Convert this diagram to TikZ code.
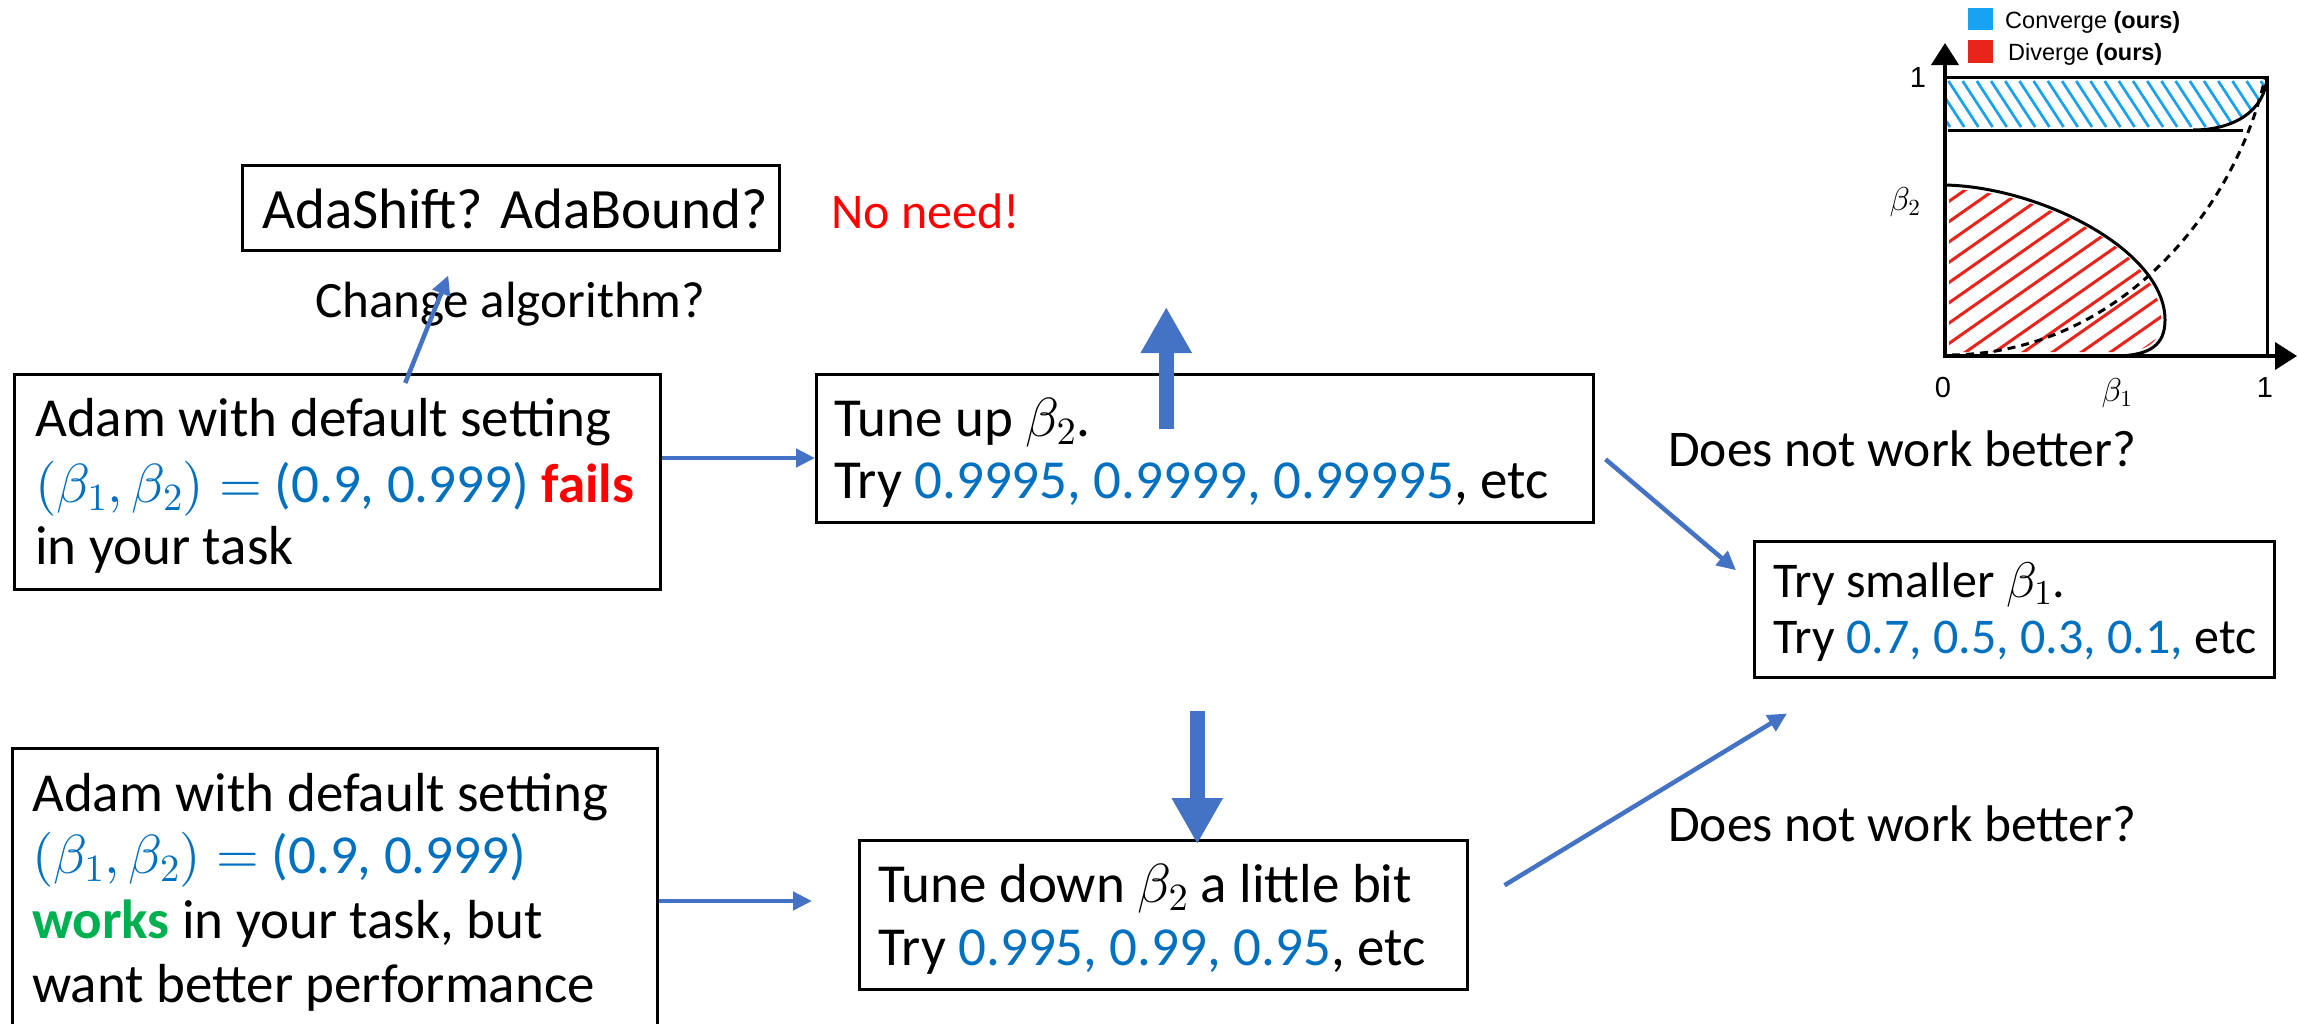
\documentclass[tikz,border=0pt]{standalone}
\DeclareFontFamily{OML}{cmm}{\skewchar\font'177}
\DeclareFontShape{OML}{cmm}{m}{it}{<->cmmi10}{}
\DeclareFontShape{OML}{cmm}{b}{it}{<->cmmib10}{}
\DeclareFontFamily{OMS}{cmsy}{\skewchar\font'60}
\DeclareFontShape{OMS}{cmsy}{m}{n}{<->cmsy10}{}
\DeclareFontFamily{OMX}{cmex}{}
\DeclareFontShape{OMX}{cmex}{m}{n}{<->cmex10}{}
\DeclareFontFamily{OT1}{cmr}{}
\DeclareFontShape{OT1}{cmr}{m}{n}{<->cmr10}{}
\DeclareFontShape{OT1}{cmr}{m}{it}{<->cmti10}{}
\DeclareFontShape{OT1}{cmr}{bx}{n}{<->cmbx10}{}
\usepackage{fontspec}
\setmainfont{Carlito}
\newfontfamily\arialf{Liberation Sans}
\usetikzlibrary{arrows.meta,calc}
\definecolor{tblue}{HTML}{0070C0}
\definecolor{ablue}{HTML}{4472C4}
\definecolor{tgreen}{HTML}{00B050}
\definecolor{cblue}{HTML}{18A2F2}
\definecolor{cred}{HTML}{E8251A}
\begin{document}
\begin{tikzpicture}[x=1pt,y=-1pt,
  box/.style={draw, line width=2.5pt, inner sep=0pt, anchor=north west},
  txt/.style={anchor=base west, inner sep=0pt, font=\fontsize{55}{64}\selectfont},
  tfive/.style={anchor=base west, inner sep=0pt, font=\fontsize{50}{58}\selectfont},
  lbl/.style={anchor=base west, inner sep=0pt, font=\fontsize{51}{60}\selectfont},
  thinarrow/.style={draw=ablue, line width=4.5pt, -{Triangle[length=19pt,width=18pt]}},
  thickarrow/.style={draw=ablue, line width=15pt, -{Triangle[length=46pt,width=48pt]}},
  pl/.style={inner sep=0pt, font=\arialf\fontsize{29}{31}\selectfont},
  plm/.style={inner sep=0pt, font=\fontsize{33}{35}\selectfont},
  leg/.style={anchor=base west, inner sep=0pt, font=\arialf\fontsize{23.5}{26}\selectfont},
  curve/.style={line width=3pt},
  axis/.style={line width=4pt, -{Triangle[length=22pt,width=27pt]}}
]
\path[use as bounding box, fill=white] (0,0) rectangle (2298,1023);

% boxes
\node[box, minimum width=537pt, minimum height=85pt] (ada) at (241,164) {};
\node[box, minimum width=646pt, minimum height=215pt] (b1) at (13,373) {};
\node[box, minimum width=777pt, minimum height=148pt] (b2) at (815,373) {};
\node[box, minimum width=608pt, minimum height=149pt] (b3) at (858,839) {};
\node[box, minimum width=645pt, minimum height=300pt] (b4) at (11,747) {};
\node[box, minimum width=520pt, minimum height=136pt] (b5) at (1753,540) {};

% texts
\node[txt, font=\fontsize{57}{64}\selectfont] (adaT) at (262,228) {AdaShift? AdaBound?};
\node[lbl, font=\fontsize{50}{60}\selectfont, text=red] (noneed) at (831,228) {No need!};
\node[lbl] (chg) at (315,317) {Change algorithm?};
\node[txt] (b1a) at (35,436) {Adam with default setting};
\node[txt] (b1b) at (35,502) {\color{tblue}$(\beta_1,\beta_2) =$ (0.9, 0.999) \textcolor{red}{\textbf{fails}}};
\node[txt] (b1c) at (35,564) {in your task};
\node[txt] (b2a) at (834,436) {Tune up $\beta_2$.};
\node[txt] (b2b) at (834,498) {Try \textcolor{tblue}{0.9995, 0.9999, 0.99995}, etc};
\node[txt] (b3a) at (878,902) {Tune down $\beta_2$ a little bit};
\node[txt] (b3b) at (878,965) {Try \textcolor{tblue}{0.995, 0.99, 0.95}, etc};
\node[txt] (b4a) at (32,811) {Adam with default setting};
\node[txt] (b4b) at (32,873) {\color{tblue}$(\beta_1,\beta_2) =$ (0.9, 0.999)};
\node[txt] (b4c) at (32,938) {\textcolor{tgreen}{\textbf{works}} in your task, but};
\node[txt] (b4d) at (32,1002) {want better performance};
\node[tfive] (b5a) at (1773,597) {Try smaller $\beta_1$.};
\node[tfive] (b5b) at (1773,653) {Try \textcolor{tblue}{0.7, 0.5, 0.3, 0.1,} etc};
\node[lbl, font=\fontsize{51.5}{60}\selectfont] (dn1) at (1668,466) {Does not work better?};
\node[lbl, font=\fontsize{51.5}{60}\selectfont] (dn2) at (1668,841) {Does not work better?};

% connectors
\draw[thinarrow] (b1.east |- 0,458) -- (b2.west |- 0,458);
\draw[thinarrow] ([xshift=68pt,yshift=-10pt]b1.north) -- ([xshift=-62.5pt,yshift=-24pt]ada.south);
\draw[thickarrow] ([xshift=-38.5pt,yshift=-56pt]b2.north) -- ([xshift=-38.5pt,yshift=66pt]b2.north);
\draw[thickarrow] ([xshift=34pt,yshift=128pt]b3.north) -- ([xshift=34pt,yshift=-5pt]b3.north);
\draw[thinarrow] ([xshift=11pt,yshift=-11pt]b2.east) -- ([xshift=-17pt,yshift=39pt]b5.west);
\draw[thinarrow] ([xshift=36pt,yshift=29.5pt]b3.east) -- ([xshift=34pt,yshift=-35pt]b5.south west);
\draw[thinarrow, shorten >=46pt] (b4.east |- 0,901) -- (b3.west |- 0,901);

% plot: hatching
\begin{scope}
\clip (1945,77) -- (2267,77) .. controls (2265,110) and (2235,130) .. (2193,130) -- (1945,130) -- cycle;
\foreach \i in {0,...,25} \draw[cblue, line width=2.7pt] ({1920+14.2*\i},81) -- ++(30,46);
\end{scope}
\begin{scope}
\clip (1949,189) .. controls (2040,191) and (2161,250) .. (2161,320) .. controls (2161,343) and (2146,352) .. (2118,352) -- (1949,352) -- cycle;
\foreach \i in {0,...,20} \draw[cred, line width=3pt] ({1650+29*\i},370) -- ++(380,-266);
\end{scope}
% plot: curves
\draw[curve] (1945,185) .. controls (2040,187) and (2165,250) .. (2165,320) .. controls (2165,345) and (2150,355) .. (2118,356);
\draw[curve] (1948,130) -- (2243,130);
\draw[curve] (2193,130) .. controls (2235,130) and (2265,110) .. (2267,77);
\draw[curve] (1945,77) -- (2267,77) -- (2267,356);
\draw[line width=3pt, dash pattern=on 8pt off 6pt] (1952,355) .. controls (2120,352) and (2235,210) .. (2265,78);
% axes
\draw[axis] (1945,358) -- (1945,43);
\draw[axis] (1943,356) -- (2297,356);
% plot labels
\node[pl] (one1) at (1918,78) {1};
\node[pl] (zero) at (1943,388) {0};
\node[pl] (one2) at (2265,388) {1};
\node[plm] (bt2) at (1905,202) {$\beta_2$};
\node[plm] (bt1) at (2117,393) {$\beta_1$};
% legend
\node[fill=cblue, inner sep=0pt, minimum width=25pt, minimum height=22pt, anchor=north west] (lgb) at (1968,8) {};
\node[fill=cred, inner sep=0pt, minimum width=25pt, minimum height=23pt, anchor=north west] (lgr) at (1968,40) {};
\node[leg] (lc) at (2005,28) {Converge \textbf{(ours)}};
\node[leg] (ld) at (2008,60) {Diverge \textbf{(ours)}};
\end{tikzpicture}
\end{document}
